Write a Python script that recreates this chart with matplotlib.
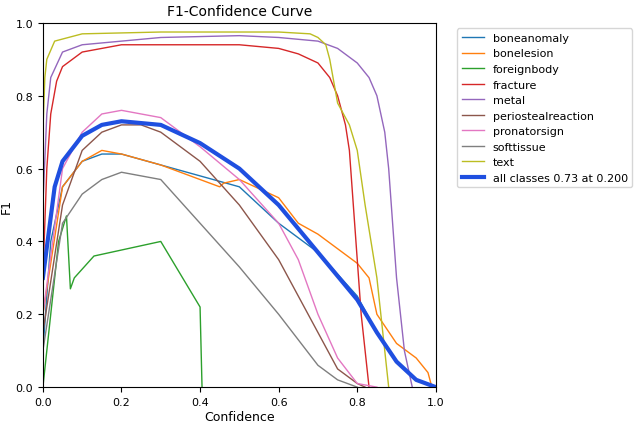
import matplotlib
matplotlib.use("Agg")
import matplotlib.pyplot as plt

names = ["boneanomaly", "bonelesion", "foreignbody", "fracture", "metal",
         "periostealreaction", "pronatorsign", "softtissue", "text"]

curves = {
    "boneanomaly": ([0, .02, .05, .1, .15, .2, .3, .4, .5, .6, .7, .8, .85, .9, .95, 1.0],
                    [.1, .4, .55, .62, .64, .64, .61, .58, .55, .45, .37, .25, .15, .07, .02, 0]),
    "bonelesion": ([0, .05, .1, .15, .2, .3, .4, .45, .46, .5, .6, .65, .7, .8, .83, .85, .9, .95, .98, .99],
                   [.2, .55, .62, .65, .64, .61, .57, .55, .56, .57, .52, .45, .42, .34, .3, .2, .12, .08, .04, 0]),
    "foreignbody": ([0, .04, .06, .07, .08, .13, .3, .4, .405],
                    [0, .4, .47, .27, .3, .36, .4, .22, 0]),
    "fracture": ([0, .01, .02, .035, .05, .1, .2, .5, .6, .65, .7, .73, .75, .77, .78, .79, .8, .81, .82, .83],
                 [.3, .6, .75, .84, .88, .92, .94, .94, .93, .915, .89, .85, .8, .72, .65, .5, .35, .2, .1, 0]),
    "metal": ([0, .01, .02, .05, .1, .3, .5, .6, .7, .75, .8, .83, .85, .87, .88, .89, .9, .92, .94],
              [.5, .75, .85, .92, .94, .96, .965, .96, .95, .93, .89, .85, .8, .7, .6, .45, .3, .1, 0]),
    "periostealreaction": ([0, .05, .1, .15, .2, .25, .3, .4, .5, .6, .7, .75, .8, .82],
                           [.15, .5, .65, .7, .72, .72, .7, .62, .5, .35, .15, .05, .01, 0]),
    "pronatorsign": ([0, .05, .1, .15, .2, .3, .4, .5, .6, .65, .7, .75, .8, .85],
                     [.2, .6, .7, .75, .76, .74, .66, .57, .45, .35, .2, .08, .01, 0]),
    "softtissue": ([0, .05, .1, .15, .2, .3, .4, .5, .6, .65, .7, .75, .8],
                   [.1, .45, .53, .57, .59, .57, .45, .33, .2, .13, .06, .02, 0]),
    "text": ([0, .005, .01, .03, .1, .3, .6, .68, .7, .72, .73, .74, .75, .78, .8, .82, .85, .87, .88],
             [.7, .85, .9, .95, .97, .975, .975, .97, .96, .94, .9, .84, .78, .72, .65, .5, .3, .1, 0]),
}
all_x = [0, .03, .05, .1, .15, .2, .3, .4, .5, .6, .7, .8, .85, .9, .95, 1.0]
all_y = [.3, .55, .62, .69, .72, .73, .72, .67, .6, .5, .37, .24, .15, .07, .02, 0]

fig = plt.figure(figsize=(6.4, 4.27), dpi=100)
ax = fig.add_axes([0.067, 0.091, 0.614, 0.853])
for i, n in enumerate(names):
    x, y = curves[n]
    ax.plot(x, y, lw=1, color=f"C{i}", label=n)
ax.plot(all_x, all_y, lw=3, color="#1f4fe0", label="all classes 0.73 at 0.200")
ax.set_xlim(0, 1)
ax.set_ylim(0, 1)
ax.set_xlabel("Confidence", fontsize=9, labelpad=2)
ax.set_ylabel("F1", fontsize=9, labelpad=2)
ax.set_title("F1-Confidence Curve", fontsize=10)
ax.tick_params(labelsize=8)
ax.legend(bbox_to_anchor=(1.04, 1), loc="upper left", fontsize=8)
fig.savefig("out.png")
